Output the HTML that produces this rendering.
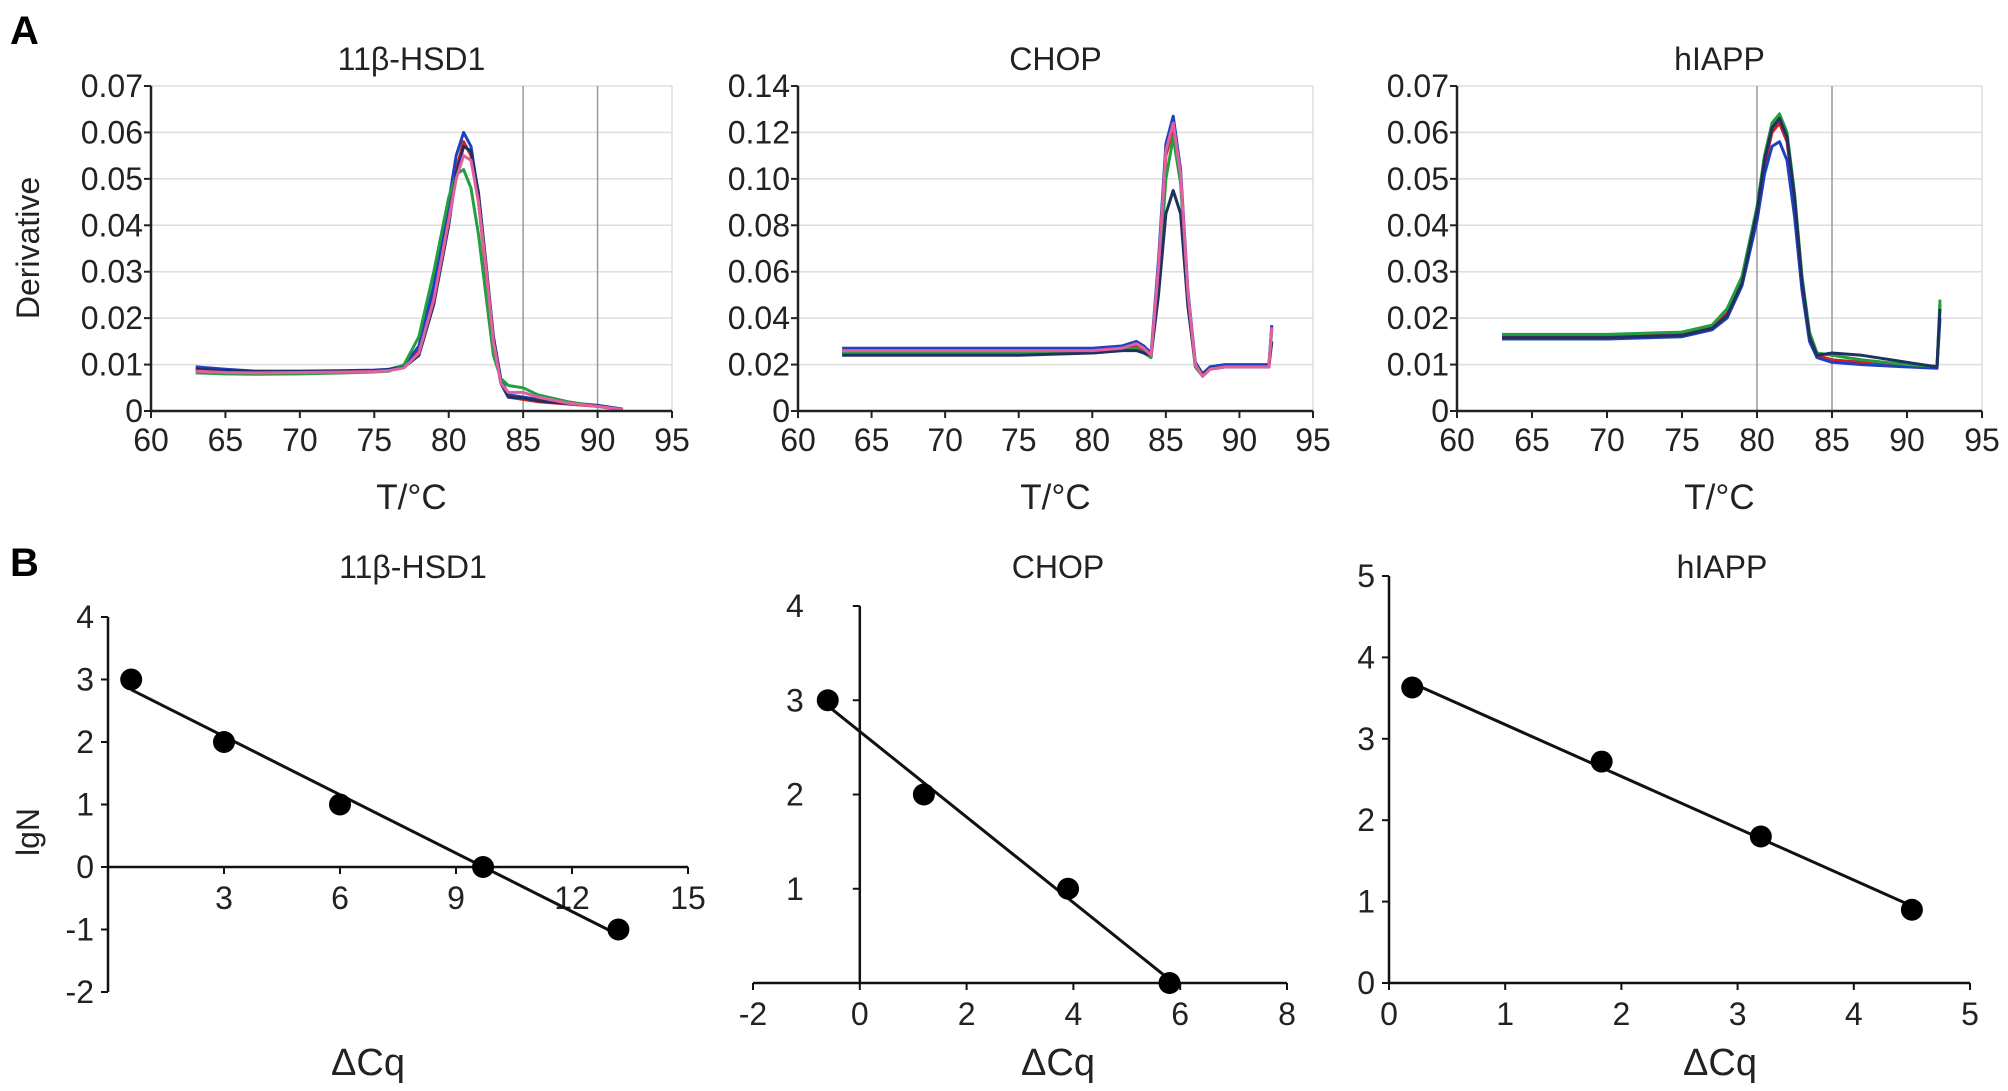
<!DOCTYPE html>
<html><head><meta charset="utf-8"><style>
html,body{margin:0;padding:0;background:#fff;}
svg{display:block;font-family:"Liberation Sans",Arial,sans-serif;}
</style></head><body>
<svg id="fig" width="2008" height="1091" viewBox="0 0 2008 1091" xmlns="http://www.w3.org/2000/svg">
<text x="10" y="44" font-size="40" font-weight="bold">A</text>
<text x="10" y="576" font-size="40" font-weight="bold">B</text>
</svg>
<script>
// ---------- Melt-curve data ----------
const meltTitles = ["11β-HSD1", "CHOP", "hIAPP"];
const meltYMax = [0.07, 0.14, 0.07];
const meltYStep = [0.01, 0.02, 0.01];
const meltXTicks = [60, 65, 70, 75, 80, 85, 90, 95];
const meltVGrid = [[85, 90], [], [80, 85]];

const tempA1 = [63,65,67,70,73,75,76,77,78,79,80,80.5,81,81.5,82,82.5,83,83.5,84,85,86,88,90,91.7];
const a1s1 = [.0088,.0085,.0083,.0084,.0085,.0086,.0088,.0095,.013,.025,.042,.052,.058,.055,.045,.030,.015,.006,.003,.0025,.002,.0015,.001,.0003];
const a1s2 = [.0095,.0090,.0086,.0086,.0087,.0088,.0090,.0098,.014,.027,.045,.055,.060,.057,.046,.031,.016,.007,.0035,.003,.0025,.0018,.0012,.0004];
const a1s3 = [.0082,.0080,.0079,.0080,.0082,.0084,.0086,.0100,.016,.030,.046,.051,.052,.048,.038,.025,.012,.007,.0055,.0050,.0035,.0020,.0010,.0002];
const a1s4 = [.0090,.0087,.0085,.0085,.0086,.0087,.0089,.0094,.012,.023,.040,.051,.057,.056,.047,.032,.016,.006,.003,.0028,.0022,.0016,.0011,.0003];
const a1s5 = [.0086,.0083,.0082,.0083,.0084,.0085,.0087,.0093,.0125,.024,.041,.050,.055,.054,.045,.031,.015,.006,.004,.0040,.0030,.0017,.0010,.0003];

const tempA2 = [63,66,70,75,80,82,83,83.5,84,84.5,85,85.5,86,86.5,87,87.5,88,89,90,91,92,92.2];
const a2s1 = [.026,.026,.026,.026,.026,.027,.028,.026,.024,.060,.110,.122,.100,.050,.020,.015,.018,.019,.019,.019,.019,.036];
const a2s2 = [.027,.027,.027,.027,.027,.028,.030,.028,.025,.065,.115,.127,.104,.052,.021,.016,.019,.020,.020,.020,.020,.037];
const a2s3 = [.025,.025,.025,.025,.025,.026,.027,.025,.023,.055,.100,.118,.098,.048,.019,.015,.018,.019,.019,.019,.019,.035];
const a2s4 = [.024,.024,.024,.024,.025,.026,.026,.025,.024,.050,.085,.095,.085,.045,.020,.016,.018,.019,.019,.019,.019,.030];
const a2s5 = [.026,.026,.026,.026,.026,.027,.029,.027,.024,.062,.112,.124,.102,.051,.020,.015,.018,.019,.019,.019,.019,.036];

const tempA3 = [63,66,70,75,77,78,79,80,80.5,81,81.5,82,82.5,83,83.5,84,85,87,90,92,92.2];
const a3s1 = [.016,.016,.016,.0165,.018,.021,.028,.042,.053,.060,.062,.058,.045,.028,.016,.012,.011,.0105,.0098,.0095,.023];
const a3s2 = [.0155,.0155,.0155,.016,.0175,.020,.027,.041,.051,.057,.058,.054,.042,.026,.015,.0115,.0105,.010,.0095,.0092,.020];
const a3s3 = [.0165,.0165,.0165,.017,.0185,.022,.029,.044,.055,.062,.064,.060,.047,.029,.017,.0125,.012,.011,.0100,.0096,.024];
const a3s4 = [.0158,.0158,.0158,.0163,.0178,.0205,.0275,.043,.054,.061,.063,.059,.046,.028,.016,.012,.0125,.012,.0105,.0095,.022];

const meltTemps = [tempA1, tempA2, tempA3];
const meltSeries = [[a1s1,a1s2,a1s3,a1s4,a1s5],[a2s1,a2s2,a2s3,a2s4,a2s5],[a3s1,a3s2,a3s3,a3s4]];
const meltColors = ["#d02020","#2040c0","#20a040","#203060","#e060a0"];

// ---------- Standard curve data ----------
const stdTitles = ["11β-HSD1", "CHOP", "hIAPP"];
const stdX1 = [0.6, 3, 6, 9.7, 13.2];
const stdY1 = [3, 2, 1, 0, -1];
const stdX2 = [-0.6, 1.2, 3.9, 5.8];
const stdY2 = [3, 2, 1, 0];
const stdX3 = [0.2, 1.83, 3.2, 4.5];
const stdY3 = [3.63, 2.72, 1.8, 0.9];
const stdXTicks1 = [3, 6, 9, 12, 15];
const stdYTicks1 = [-2, -1, 0, 1, 2, 3, 4];
const stdXTicks2 = [-2, 0, 2, 4, 6, 8];
const stdYTicks2 = [1, 2, 3, 4];
const stdXTicks3 = [0, 1, 2, 3, 4, 5];
const stdYTicks3 = [0, 1, 2, 3, 4, 5];

const svg = document.getElementById('fig');
const NS = "http://www.w3.org/2000/svg";
function mk(tag, attrs, parent) {
  const e = document.createElementNS(NS, tag);
  for (const k in attrs) e.setAttribute(k, attrs[k]);
  (parent || svg).appendChild(e);
  return e;
}
function txt(x, y, s, size, anchor, parent) {
  const t = mk('text', {x: x, y: y, 'font-size': size, 'text-anchor': anchor || 'middle', fill: '#222'}, parent);
  t.textContent = s;
  return t;
}

// ---------- Melt panels ----------
const meltBoxes = [[151, 672], [798, 1313], [1457, 1982]];
const mTop = 86, mBot = 411;
for (let p = 0; p < 3; p++) {
  const [x0, x1] = meltBoxes[p];
  const g = mk('g', {});
  
  
  const sx = v => x0 + (v - 60) / 35 * (x1 - x0);
  const sy = v => mBot - v / meltYMax[p] * (mBot - mTop);
  const nY = Math.round(meltYMax[p] / meltYStep[p]);
  for (let i = 0; i <= nY; i++) {
    const v = i * meltYStep[p], y = sy(v);
    if (i > 0) {
      const gl = mk('line', {x1: x0, x2: x1, y1: y, y2: y, stroke: '#ddd', 'stroke-width': 1.5}, g);
      
      
    }
    mk('line', {x1: x0 - 7, x2: x0, y1: y, y2: y, stroke: '#222', 'stroke-width': 2}, g);
    const lab = txt(x0 - 8, y + 11, i === 0 ? '0' : v.toFixed(2), 32, 'end', g);
    
    
  }
  mk('line', {x1: x1, x2: x1, y1: mTop, y2: mBot, stroke: '#ddd', 'stroke-width': 1.5}, g);
  meltVGrid[p].forEach(v => {
    const vl = mk('line', {x1: sx(v), x2: sx(v), y1: mTop, y2: mBot, stroke: '#999', 'stroke-width': 1.5}, g);
    
    
  });
  meltXTicks.forEach(v => {
    mk('line', {x1: sx(v), x2: sx(v), y1: mBot, y2: mBot + 7, stroke: '#222', 'stroke-width': 2}, g);
    const lab = txt(sx(v), mBot + 40, String(v), 32, 'middle', g);
    
    
  });
  meltSeries[p].forEach((s, k) => {
    const d = s.map((v, i) => (i ? 'L' : 'M') + sx(meltTemps[p][i]).toFixed(1) + ',' + sy(v).toFixed(1)).join(' ');
    const path = mk('path', {d: d, fill: 'none', stroke: meltColors[k % meltColors.length], 'stroke-width': 3, 'stroke-linejoin': 'round'}, g);
    
    
  });
  mk('line', {x1: x0, x2: x0, y1: mTop, y2: mBot, stroke: '#222', 'stroke-width': 2.5}, g);
  mk('line', {x1: x0, x2: x1, y1: mBot, y2: mBot, stroke: '#222', 'stroke-width': 2.5}, g);
  const t = txt((x0 + x1) / 2, 70, meltTitles[p], 32, 'middle', g);
  
  
  const xt = txt((x0 + x1) / 2, 509, 'T/°C', 35, 'middle', g);
  
  
}
const dl = txt(0, 0, 'Derivative', 32, 'middle');
dl.setAttribute('transform', 'translate(39,248) rotate(-90)');



// ---------- Standard curve panels ----------
function stdPanel(idx, cfg) {
  const g = mk('g', {});
  
  
  const sx = v => cfg.px0 + (v - cfg.xmin) / (cfg.xmax - cfg.xmin) * (cfg.px1 - cfg.px0);
  const sy = v => cfg.py0 - (v - cfg.ymin) / (cfg.ymax - cfg.ymin) * (cfg.py0 - cfg.py1);
  const ax = sx(cfg.yAxisAt), ay = sy(cfg.xAxisAt);
  mk('line', {x1: ax, x2: ax, y1: sy(cfg.ymax), y2: sy(cfg.ymin), stroke: '#111', 'stroke-width': 2.5}, g);
  mk('line', {x1: sx(cfg.xmin), x2: sx(cfg.xmax), y1: ay, y2: ay, stroke: '#111', 'stroke-width': 2.5}, g);
  cfg.yTicks.forEach(v => {
    mk('line', {x1: ax - 7, x2: ax, y1: sy(v), y2: sy(v), stroke: '#111', 'stroke-width': 2}, g);
    const l = txt(ax - cfg.labGap, sy(v) + 11, String(v), 32, 'end', g);
    
    
  });
  cfg.xTicks.forEach(v => {
    mk('line', {x1: sx(v), x2: sx(v), y1: ay, y2: ay + 7, stroke: '#111', 'stroke-width': 2}, g);
    const l = txt(sx(v), ay + 42, String(v), 32, 'middle', g);
    
    
  });
  const xs = cfg.xs, ys = cfg.ys, n = xs.length;
  const mx = xs.reduce((a, b) => a + b) / n, my = ys.reduce((a, b) => a + b) / n;
  let num = 0, den = 0;
  for (let i = 0; i < n; i++) { num += (xs[i] - mx) * (ys[i] - my); den += (xs[i] - mx) ** 2; }
  const m = num / den, b = my - m * mx;
  const xa = Math.min(...xs), xb = Math.max(...xs);
  const fl = mk('line', {x1: sx(xa), y1: sy(m * xa + b), x2: sx(xb), y2: sy(m * xb + b), stroke: '#111', 'stroke-width': 3}, g);
  
  
  for (let i = 0; i < n; i++) {
    const c = mk('circle', {cx: sx(xs[i]), cy: sy(ys[i]), r: 11, fill: '#000'}, g);
    
    
  }
  const t = txt(cfg.titleX, 578, cfg.title, 32, 'middle', g);
  
  
  const xt = txt(cfg.axTitleX, 1075, 'ΔCq', 38, 'middle', g);
  
  
}
stdPanel(1, {xmin: 0, xmax: 15, ymin: -2, ymax: 4, px0: 108, px1: 688, py0: 992, py1: 617, labGap: 14,
  yAxisAt: 0, xAxisAt: 0, xTicks: stdXTicks1, yTicks: stdYTicks1, xs: stdX1, ys: stdY1, title: stdTitles[0], titleX: 413, axTitleX: 368});
stdPanel(2, {xmin: -2, xmax: 8, ymin: 0, ymax: 4, px0: 753, px1: 1287, py0: 983, py1: 606, labGap: 56,
  yAxisAt: 0, xAxisAt: 0, xTicks: stdXTicks2, yTicks: stdYTicks2, xs: stdX2, ys: stdY2, title: stdTitles[1], titleX: 1058, axTitleX: 1058});
stdPanel(3, {xmin: 0, xmax: 5, ymin: 0, ymax: 5, px0: 1389, px1: 1970, py0: 983, py1: 576, labGap: 14,
  yAxisAt: 0, xAxisAt: 0, xTicks: stdXTicks3, yTicks: stdYTicks3, xs: stdX3, ys: stdY3, title: stdTitles[2], titleX: 1722, axTitleX: 1720});
const ly = txt(0, 0, 'lgN', 32, 'middle');
ly.setAttribute('transform', 'translate(39,832) rotate(-90)');


</script>
</body></html>
